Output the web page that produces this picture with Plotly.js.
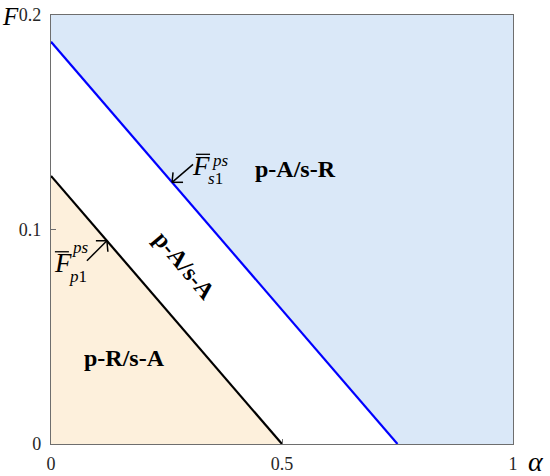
<!DOCTYPE html>
<html><head><meta charset="utf-8">
<script src="https://cdn.plot.ly/plotly-3.0.1.min.js"></script>
<style>html,body{margin:0;padding:0;background:#fff}#chart{width:550px;height:476px}</style>
</head><body><div id="chart"></div>
<script>
// Boundary lines (alpha, F)
const sLineAlpha = [0, 0.75];
const sLineF = [0.1875, 0];
const pLineAlpha = [0, 0.5];
const pLineF = [0.125, 0];
const xRange = [0, 1];
const yRange = [0, 0.2];
const xTicks = [0, 0.5, 1];
const xTickLabels = ['0', '0.5', '1'];
const yTicks = [0, 0.1, 0.2];
const yTickLabels = ['0', '0.1', '0.2'];
const regionLabels = ['p-A/s-R', 'p-A/s-A', 'p-R/s-A'];
const regionAlpha = [0.53, 0.29, 0.16];
const regionF = [0.128, 0.083, 0.040];
// points on the boundary lines that the labels point to
const sMarkAlpha = 0.262;
const pMarkAlpha = 0.121;

const serif = 'Liberation Serif, Times New Roman, serif';
const onLine = (xs, ys, a) => ys[0] + (ys[1] - ys[0]) * (a - xs[0]) / (xs[1] - xs[0]);
const sMarkF = onLine(sLineAlpha, sLineF, sMarkAlpha);
const pMarkF = onLine(pLineAlpha, pLineF, pMarkAlpha);

const blueFill = {
  x: [sLineAlpha[0], sLineAlpha[1], xRange[1], xRange[1], sLineAlpha[0]],
  y: [sLineF[0], sLineF[1], yRange[0], yRange[1], yRange[1]],
  fill: 'toself', fillcolor: '#dae8f8', mode: 'none', type: 'scatter', hoverinfo: 'skip'
};
const tanFill = {
  x: [pLineAlpha[0], pLineAlpha[1], pLineAlpha[0]],
  y: [pLineF[0], pLineF[1], yRange[0]],
  fill: 'toself', fillcolor: '#fdf0dc', mode: 'none', type: 'scatter', hoverinfo: 'skip'
};
const sLine = {x: sLineAlpha, y: sLineF, mode: 'lines', type: 'scatter', line: {color: '#0000ff', width: 2.2}};
const pLine = {x: pLineAlpha, y: pLineF, mode: 'lines', type: 'scatter', line: {color: '#000000', width: 2.2}};

const regionFont = {family: serif, size: 24, color: '#000'};
const fFont = {family: serif, size: 27, color: '#000'};
const subFont = {family: serif, size: 17, color: '#000'};

function markLabel(ax0, ay0, fPos, supPos, subPos, supText, subText) {
  return [
    {x: ax0, y: ay0, xshift: fPos[0], yshift: fPos[1], text: '<i>F</i>', showarrow: false,
     xanchor: 'center', yanchor: 'middle', font: fFont},
    {x: ax0, y: ay0, xshift: supPos[0], yshift: supPos[1], text: supText, showarrow: false,
     xanchor: 'center', yanchor: 'middle', font: subFont},
    {x: ax0, y: ay0, xshift: subPos[0], yshift: subPos[1], text: subText, showarrow: false,
     xanchor: 'center', yanchor: 'middle', font: subFont}
  ];
}

const annotations = [
  {x: regionAlpha[0], y: regionF[0], text: '<b>' + regionLabels[0] + '</b>', showarrow: false, font: regionFont},
  {x: regionAlpha[1], y: regionF[1], text: '<b>' + regionLabels[1] + '</b>', showarrow: false, textangle: 50, font: regionFont},
  {x: regionAlpha[2], y: regionF[2], text: '<b>' + regionLabels[2] + '</b>', showarrow: false, font: regionFont},
  ...markLabel(sMarkAlpha, sMarkF, [29, 16], [48, 22], [43, 4], '<i>ps</i>', '<i>s</i>1'),
  ...markLabel(pMarkAlpha, pMarkF, [-44, -22], [-26, -7], [-29, -36], '<i>ps</i>', '<i>p</i>1'),
  // axis titles
  {xref: 'paper', yref: 'paper', x: 0, y: 1, xshift: -38, yshift: -1, text: '<i>F</i>', showarrow: false,
   xanchor: 'right', yanchor: 'middle', font: {family: serif, size: 25, color: '#000'}, xshift: -30},
  {xref: 'paper', yref: 'paper', x: 1, y: 0, xshift: 23, yshift: -17, text: '<i>\u03b1</i>', showarrow: false,
   xanchor: 'center', yanchor: 'middle', font: {family: serif, size: 28, color: '#000'}}
];

// pixel-sized line segments anchored at a marked point (overbars, open arrows)
const seg = (xa, ya, x0, y0, x1, y1, w) => ({type: 'line', xref: 'x', yref: 'y', xsizemode: 'pixel', ysizemode: 'pixel',
  xanchor: xa, yanchor: ya, x0: x0, x1: x1, y0: y0, y1: y1, line: {color: '#000', width: w}});
const arrow = (xa, ya, tail, arm1, arm2) => [
  seg(xa, ya, 0, 0, tail[0], tail[1], 1.5),
  seg(xa, ya, 0, 0, arm1[0], arm1[1], 1.5),
  seg(xa, ya, 0, 0, arm2[0], arm2[1], 1.5)
];
const shapes = [
  seg(sMarkAlpha, sMarkF, 24, 28, 38, 28, 1.3),
  seg(pMarkAlpha, pMarkF, -52, -11, -38, -11, 1.3),
  ...arrow(sMarkAlpha, sMarkF, [21, 18], [1, 10], [11, 0]),
  ...arrow(pMarkAlpha, pMarkF, [-20, -20], [-11, 0], [1, -11])
];

const axisCommon = {
  showgrid: false, zeroline: false, showline: true, mirror: true, linecolor: '#6e6e6e', linewidth: 1.2,
  ticks: 'inside', ticklen: 5, tickcolor: '#6e6e6e', tickfont: {family: serif, size: 18, color: '#262626'}, fixedrange: true
};

const layout = {
  width: 550, height: 476,
  margin: {l: 51, r: 37, t: 15, b: 32},
  paper_bgcolor: '#fff', plot_bgcolor: '#fff',
  showlegend: false,
  xaxis: Object.assign({}, axisCommon, {range: xRange, tickvals: xTicks, ticktext: xTickLabels, ticklabelstandoff: 3}),
  yaxis: Object.assign({}, axisCommon, {range: yRange, tickvals: yTicks, ticktext: yTickLabels, ticklabelstandoff: 5}),
  annotations: annotations,
  shapes: shapes
};

Plotly.newPlot('chart', [blueFill, tanFill, sLine, pLine], layout, {displayModeBar: false, staticPlot: true});
</script></body></html>
